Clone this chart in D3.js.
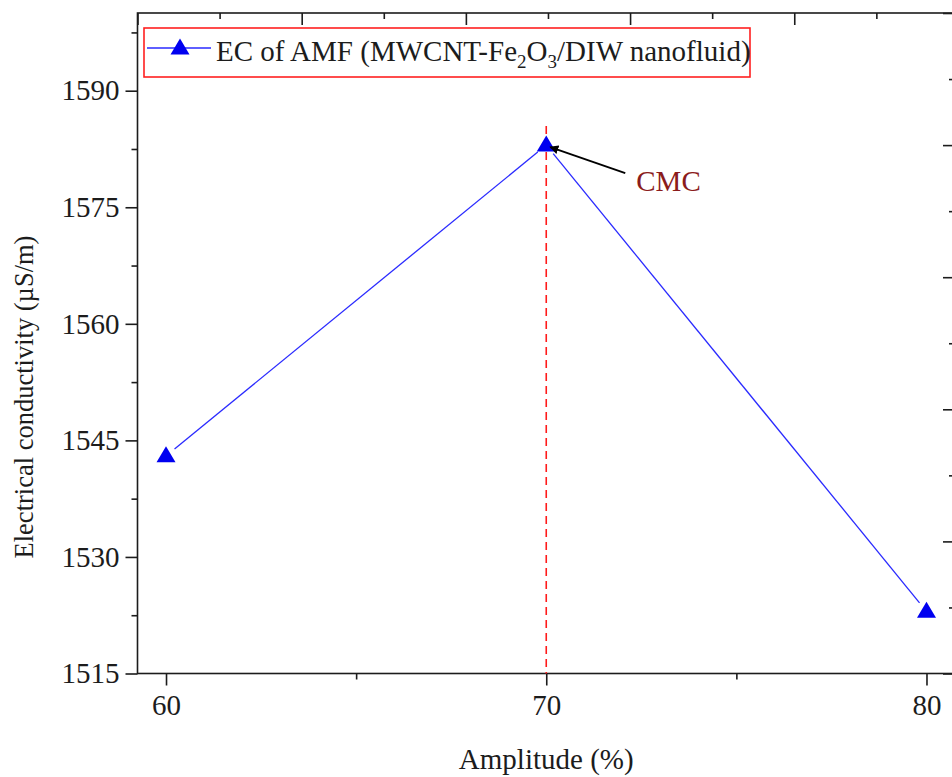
<!DOCTYPE html>
<html>
<head>
<meta charset="utf-8">
<script src="https://cdn.jsdelivr.net/npm/d3@7"></script>
<style>
  html, body { margin: 0; padding: 0; background: #fff; }
  svg { display: block; font-family: "Liberation Serif", "Times New Roman", serif; }
</style>
</head>
<body>
<svg id="chart" width="952" height="777"></svg>
<script>
// Sonication amplitude vs. electrical conductivity
const amplitudes = [60, 70, 80];
const conductivity = [1543, 1583, 1523];
const xTickValues = [60, 70, 80];
const xMinorTicks = [65, 75];
const yTickValues = [1515, 1530, 1545, 1560, 1575, 1590];
const yMinorTicks = [1522.5, 1537.5, 1552.5, 1567.5, 1582.5, 1597.5];
const seriesName = "EC of AMF (MWCNT-Fe";
const cmcAmplitude = 70;
// secondary (unlabelled) frame axes
const topMajor = [0, 1, 2, 3, 4];
const topMinor = [0.5, 1.5, 2.5, 3.5, 4.5];
const rightMajor = [0, 1, 2, 3, 4, 5];
const rightMinor = [0.5, 1.5, 2.5, 3.5, 4.5];

const svg = d3.select("#chart");
const L = 137.5, R = 955, T = 13, B = 673.5;
const ink = "#1c1c1c";
const fontMain = 29;

const x = d3.scaleLinear().domain([59.25, 80.75]).range([L, R]);
const y = d3.scaleLinear().domain([1515, 1600]).range([B, T]);
const xTop = d3.scaleLinear().domain([0, 4.979]).range([L, R]);
const yRight = d3.scaleLinear().domain([0, 5]).range([B, T]);

// frame
svg.append("rect").attr("x", L).attr("y", T).attr("width", R - L).attr("height", B - T)
  .attr("fill", "none").attr("stroke", ink).attr("stroke-width", 1.6);

function styleAxis(g) {
  g.select(".domain").remove();
  g.selectAll(".tick line").attr("stroke", ink).attr("stroke-width", 1.6);
  g.selectAll(".tick text").attr("fill", ink).attr("font-size", fontMain)
    .attr("font-family", "Liberation Serif, Times New Roman, serif");
}

// bottom axis
svg.append("g").attr("transform", `translate(0,${B})`)
  .call(d3.axisBottom(x).tickValues(xTickValues).tickSize(12).tickPadding(9).tickFormat(d3.format("d")))
  .call(styleAxis);
svg.append("g").attr("transform", `translate(0,${B})`)
  .call(d3.axisBottom(x).tickValues(xMinorTicks).tickSize(6).tickFormat(""))
  .call(styleAxis);

// left axis
svg.append("g").attr("transform", `translate(${L},0)`)
  .call(d3.axisLeft(y).tickValues(yTickValues).tickSize(12).tickPadding(6).tickFormat(d3.format("d")))
  .call(styleAxis);
svg.append("g").attr("transform", `translate(${L},0)`)
  .call(d3.axisLeft(y).tickValues(yMinorTicks).tickSize(6).tickFormat(""))
  .call(styleAxis);

// top axis (ticks point inward)
svg.append("g").attr("transform", `translate(0,${T})`)
  .call(d3.axisBottom(xTop).tickValues(topMajor).tickSize(12).tickFormat(""))
  .call(styleAxis);
svg.append("g").attr("transform", `translate(0,${T})`)
  .call(d3.axisBottom(xTop).tickValues(topMinor).tickSize(6).tickFormat(""))
  .call(styleAxis);

// right axis (ticks point inward)
svg.append("g").attr("transform", `translate(${R},0)`)
  .call(d3.axisLeft(yRight).tickValues(rightMajor).tickSize(12).tickFormat(""))
  .call(styleAxis);
svg.append("g").attr("transform", `translate(${R},0)`)
  .call(d3.axisLeft(yRight).tickValues(rightMinor).tickSize(6).tickFormat(""))
  .call(styleAxis);

// axis titles
svg.append("text").attr("x", (x(60) + x(80)) / 2).attr("y", 769)
  .attr("text-anchor", "middle").attr("font-size", fontMain).attr("fill", ink)
  .text("Amplitude (%)");
svg.append("text").attr("transform", `translate(33,397) rotate(-90)`)
  .attr("text-anchor", "middle").attr("font-size", 26.5).attr("fill", ink)
  .text("Electrical conductivity (µS/m)");

const pts = amplitudes.map((a, i) => [x(a), y(conductivity[i])]);
const lineColor = "#2a2aff";
const markColor = "#0000f0";

// CMC dashed marker
const cmcIdx = amplitudes.indexOf(cmcAmplitude);
svg.append("line")
  .attr("x1", x(cmcAmplitude)).attr("x2", x(cmcAmplitude))
  .attr("y1", pts[cmcIdx][1] - 19).attr("y2", B)
  .attr("stroke", "#ff1a1a").attr("stroke-width", 1.6).attr("stroke-dasharray", "8,5");

// connecting segments, stopped short of the markers
const gap = 11;
for (let i = 0; i < pts.length - 1; i++) {
  const [x0, y0] = pts[i], [x1, y1] = pts[i + 1];
  const len = Math.hypot(x1 - x0, y1 - y0);
  const ux = (x1 - x0) / len, uy = (y1 - y0) / len;
  svg.append("line")
    .attr("x1", x0 + ux * gap).attr("y1", y0 + uy * gap)
    .attr("x2", x1 - ux * gap).attr("y2", y1 - uy * gap)
    .attr("stroke", lineColor).attr("stroke-width", 1.3);
}

// triangle markers
const tri = (cx, cy, w, h) => `M${cx},${cy - h * 0.6}L${cx + w / 2},${cy + h * 0.4}L${cx - w / 2},${cy + h * 0.4}Z`;
svg.selectAll("path.marker").data(pts).enter().append("path")
  .attr("class", "marker")
  .attr("d", d => tri(d[0], d[1], 19, 16))
  .attr("fill", markColor);

// CMC arrow annotation
const [px, py] = pts[cmcIdx];
const tail = [px + 79, py + 28];
const tip = [px + 4, py + 2];
svg.append("defs").append("marker")
  .attr("id", "arrow").attr("viewBox", "0 0 10 10").attr("refX", 9).attr("refY", 5)
  .attr("markerWidth", 5).attr("markerHeight", 5).attr("orient", "auto")
  .append("path").attr("d", "M0,0L10,5L0,10Z").attr("fill", "#000");
svg.append("line")
  .attr("x1", tail[0]).attr("y1", tail[1]).attr("x2", tip[0]).attr("y2", tip[1])
  .attr("stroke", "#000").attr("stroke-width", 1.8).attr("marker-end", "url(#arrow)");
svg.append("text").attr("x", tail[0] + 11).attr("y", tail[1] + 18)
  .attr("font-size", fontMain).attr("fill", "#8b1c1c").text("CMC");

// legend
const lg = svg.append("g");
lg.append("rect").attr("x", 144).attr("y", 28).attr("width", 606).attr("height", 49)
  .attr("fill", "#fff").attr("stroke", "#ff2020").attr("stroke-width", 1.6);
lg.append("line").attr("x1", 147).attr("x2", 211).attr("y1", 48).attr("y2", 48)
  .attr("stroke", lineColor).attr("stroke-width", 1.3);
lg.append("path").attr("d", tri(180, 48, 19, 16)).attr("fill", markColor);
const lt = lg.append("text").attr("x", 216).attr("y", 61).attr("font-size", fontMain).attr("fill", ink);
lt.append("tspan").text(seriesName);
lt.append("tspan").attr("font-size", 19).attr("dy", 7).text("2");
lt.append("tspan").attr("dy", -7).text("O");
lt.append("tspan").attr("font-size", 19).attr("dy", 7).text("3");
lt.append("tspan").attr("dy", -7).text("/DIW nanofluid)");
</script>
</body>
</html>
